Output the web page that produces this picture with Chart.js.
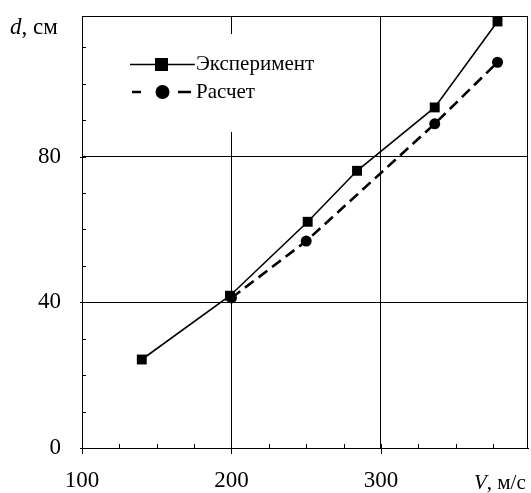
<!DOCTYPE html>
<html>
<head>
<meta charset="utf-8">
<script src="https://cdn.jsdelivr.net/npm/chart.js@4"></script>
<style>
  html, body { margin: 0; padding: 0; background: #fff; }
  #wrap { width: 531px; height: 493px; }
</style>
</head>
<body>
<div id="wrap"><canvas id="chart" width="531" height="493"></canvas></div>
<script>
// data
const expV = [140, 199, 251, 284, 336, 378];
const expD = [24.3, 41.8, 62.1, 76.1, 93.5, 117.1];
const calcV = [200, 250, 336, 378];
const calcD = [41.2, 56.8, 89.0, 105.9];

const xLabels = [100, 200, 300];
const yLabels = [0, 40, 80];
const legendNames = ['Эксперимент', 'Расчет'];

const SERIF = '"Liberation Serif", "Times New Roman", serif';

function pts(xs, ys) {
  return xs.map((x, i) => ({ x, y: ys[i] }));
}

// kill the label-overflow padding so the plot box sits where it should
function noPad(s) {
  s.paddingTop = 0; s.paddingBottom = 0;
  s.paddingLeft = 0; s.paddingRight = 0;
}

// frame, inward minor ticks, legend box, axis titles
const decor = {
  id: 'decor',
  beforeDatasetsDraw(chart) {
    const { ctx, chartArea: a, scales } = chart;
    const xs = scales.x, ys = scales.y;
    ctx.save();
    ctx.strokeStyle = '#000';
    ctx.lineWidth = 1;
    ctx.strokeRect(Math.round(a.left) + 0.5, Math.round(a.top) + 0.5,
      Math.round(a.right - a.left) - 1, Math.round(a.bottom - a.top));
    ctx.beginPath();
    xs.ticks.forEach(t => {
      const px = Math.round(xs.getPixelForValue(t.value)) + 0.5;
      const major = xLabels.includes(t.value);
      ctx.moveTo(px, a.bottom + (major ? 6 : 0));
      ctx.lineTo(px, a.bottom - 4);
    });
    ys.ticks.forEach(t => {
      const py = Math.round(ys.getPixelForValue(t.value)) + 0.5;
      const major = yLabels.includes(t.value);
      ctx.moveTo(a.left - (major ? 2 : 0), py);
      ctx.lineTo(a.left + 4, py);
    });
    ctx.stroke();
    ctx.restore();
  },
  afterDraw(chart) {
    const { ctx } = chart;
    ctx.save();
    // legend box (white, hides grid behind it)
    ctx.fillStyle = '#fff';
    ctx.fillRect(128, 34, 214, 98);
    ctx.strokeStyle = '#000';
    ctx.fillStyle = '#000';
    // Эксперимент
    ctx.lineWidth = 1.5;
    ctx.setLineDash([]);
    ctx.beginPath();
    ctx.moveTo(130, 64.5); ctx.lineTo(195, 64.5);
    ctx.stroke();
    ctx.fillRect(155, 58, 13, 13);
    // Расчет
    ctx.lineWidth = 2.5;
    ctx.beginPath();
    ctx.moveTo(132, 92); ctx.lineTo(141, 92);
    ctx.moveTo(178, 92); ctx.lineTo(191, 92);
    ctx.stroke();
    ctx.beginPath();
    ctx.arc(162.5, 92, 7, 0, Math.PI * 2);
    ctx.fill();

    ctx.font = '21px ' + SERIF;
    ctx.textBaseline = 'middle';
    ctx.textAlign = 'left';
    ctx.fillText(legendNames[0], 196, 64);
    ctx.fillText(legendNames[1], 196, 92);

    // axis titles
    ctx.textBaseline = 'alphabetic';
    ctx.font = 'italic 23px ' + SERIF;
    ctx.fillText('d', 10, 34);
    let w = ctx.measureText('d').width;
    ctx.font = '23px ' + SERIF;
    ctx.fillText(', см', 10 + w, 34);

    ctx.font = 'italic 21px ' + SERIF;
    ctx.fillText('V', 474, 489);
    w = ctx.measureText('V').width;
    ctx.font = '21px ' + SERIF;
    ctx.fillText(', м/с', 474 + w, 489);
    ctx.restore();
  }
};

new Chart(document.getElementById('chart'), {
  type: 'line',
  data: {
    datasets: [
      {
        label: legendNames[0],
        data: pts(expV, expD),
        borderColor: '#000',
        backgroundColor: '#000',
        borderWidth: 1.6,
        pointStyle: 'rect',
        pointRadius: 7,
        pointBorderWidth: 0,
        tension: 0
      },
      {
        label: legendNames[1],
        data: pts(calcV, calcD),
        borderColor: '#000',
        backgroundColor: '#000',
        borderWidth: 2.6,
        borderDash: [11, 6],
        pointStyle: 'circle',
        pointRadius: 5.5,
        pointBorderWidth: 0,
        tension: 0
      }
    ]
  },
  options: {
    responsive: false,
    animation: false,
    layout: { autoPadding: false, padding: { top: 16, right: 3, left: 0, bottom: 0 } },
    plugins: { legend: { display: false }, tooltip: { enabled: false } },
    scales: {
      x: {
        type: 'linear',
        min: 100,
        max: 398.4,
        afterFit: s => { s.height = 45; noPad(s); },
        border: { display: true, color: '#000', width: 1 },
        grid: {
          drawTicks: false,
          color: c => (c.tick && c.tick.value % 100 === 0) ? '#000' : 'rgba(0,0,0,0)',
          lineWidth: 1
        },
        ticks: {
          stepSize: 25,
          autoSkip: false,
          maxRotation: 0,
          includeBounds: false,
          padding: 19,
          color: '#000',
          font: { family: SERIF, size: 23 },
          callback: v => xLabels.includes(v) ? String(v) : ''
        }
      },
      y: {
        type: 'linear',
        min: 0,
        max: 118.6,
        afterFit: s => { s.width = 82; noPad(s); },
        border: { display: true, color: '#000', width: 1 },
        grid: {
          drawTicks: false,
          color: c => (c.tick && c.tick.value % 40 === 0) ? '#000' : 'rgba(0,0,0,0)',
          lineWidth: 1
        },
        ticks: {
          stepSize: 10,
          autoSkip: false,
          includeBounds: false,
          padding: 21,
          color: '#000',
          font: { family: SERIF, size: 23 },
          callback: v => yLabels.includes(v) ? String(v) : ''
        }
      }
    }
  },
  plugins: [decor]
});
</script>
</body>
</html>
